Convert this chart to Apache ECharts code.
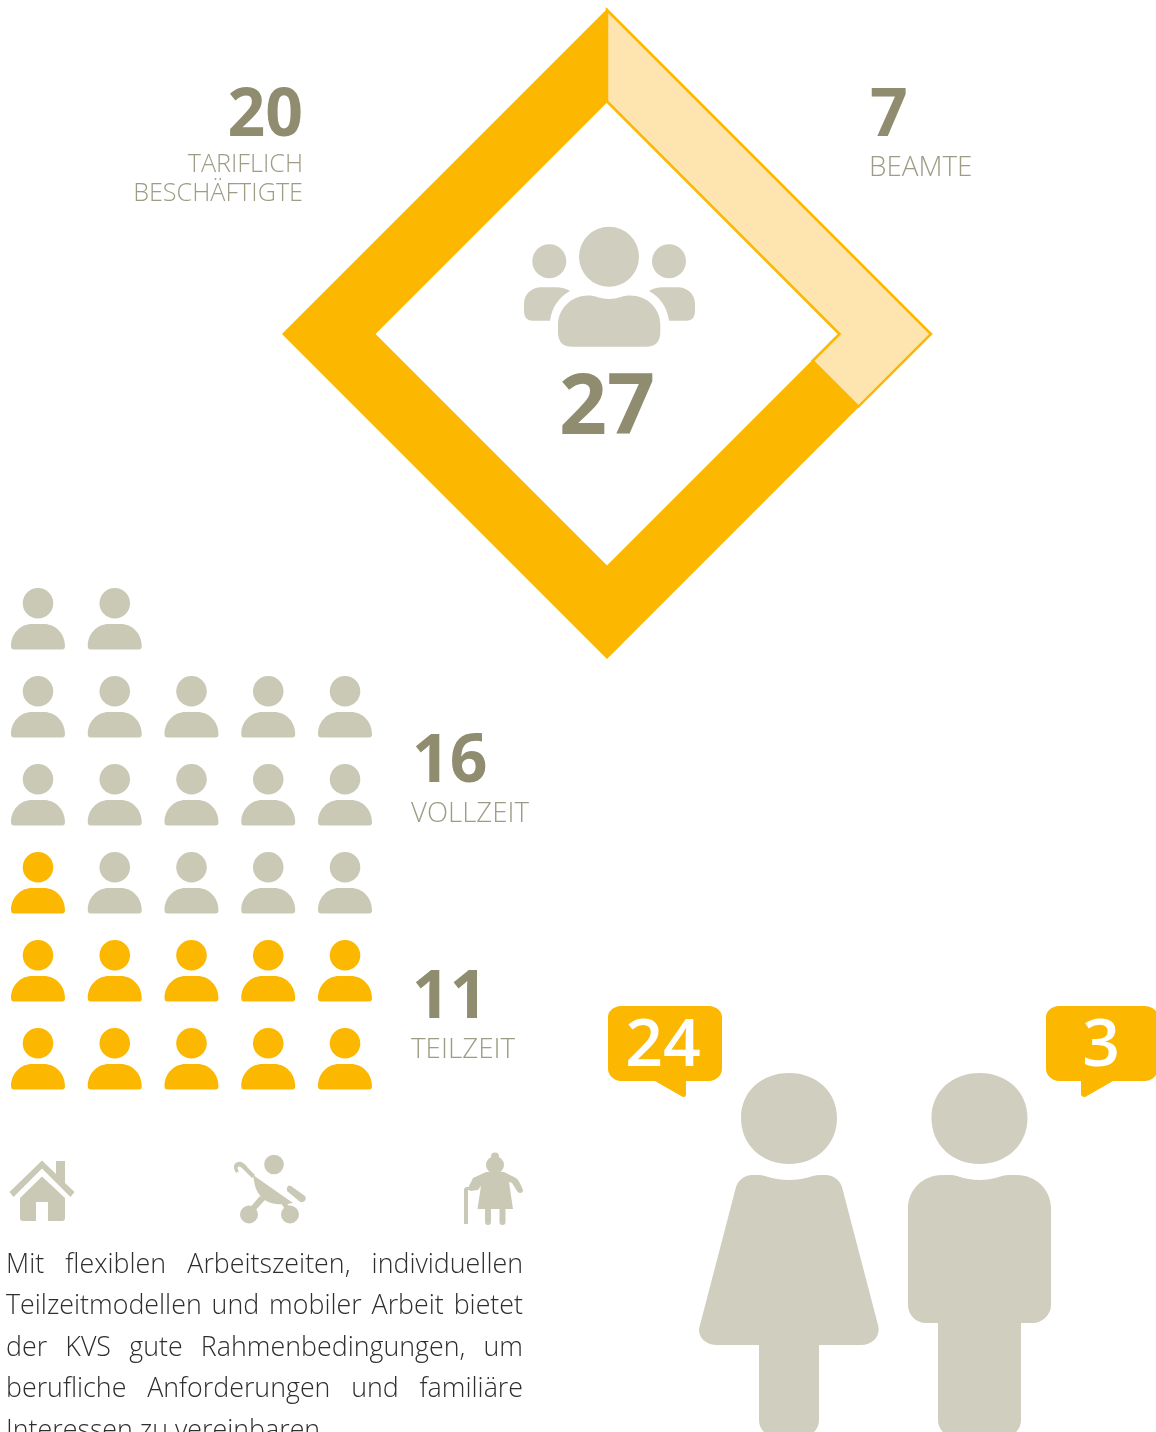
<!DOCTYPE html>
<html><head><meta charset="utf-8">
<style>html,body{margin:0;padding:0;background:#fff;overflow:hidden}#c{width:1156px;height:1432px}</style>
<script src="https://cdn.jsdelivr.net/npm/echarts@6/dist/echarts.min.js"></script>
</head><body><div id="c"></div>
<script>
// --- data ---
const totalStaff = 27;
const statusNames = ['BEAMTE', 'TARIFLICH BESCHÄFTIGTE'];
const statusCounts = [7, 20];
const ringPerimeterShares = [30.6, 69.4]; // share of the diamond outline as drawn in the picture
const workNames = ['VOLLZEIT', 'TEILZEIT'];
const workCounts = [16, 11];
const womenCount = 24;
const menCount = 3;
const paragraphLines = [
  'Mit flexiblen Arbeitszeiten, individuellen',
  'Teilzeitmodellen und mobiler Arbeit bietet',
  'der KVS gute Rahmenbedingungen, um',
  'berufliche Anforderungen und familiäre',
  'Interessen zu vereinbaren.'
];

// --- style ---
const GOLD = '#FCB700', LIGHT = '#FEE4AE', PERSON = '#C9C9B6', BIG = '#D0CEBE',
      NUM = '#8F8C70', LABEL = '#9E9C84', BODY = '#2E2E2E';
const FAMILY = '"Open Sans"';

// --- ring geometry, in page pixels on the hidden axes ---
const CX = 607, CY = 334, RO = 324, RI = 232.5;
const corners = (r) => [[CX, CY - r], [CX + r, CY], [CX, CY + r], [CX - r, CY]];
const NORMALS = [[-1, 1], [-1, -1], [1, -1], [1, 1]];
const BAND = (RO - RI) / 2;
function outerAt(t) {
  const c = corners(RO), i = Math.floor(t) % 4, f = t - Math.floor(t), a = c[i], b = c[(i + 1) % 4];
  return [a[0] + (b[0] - a[0]) * f, a[1] + (b[1] - a[1]) * f];
}
function innerAt(t) {
  const f = t - Math.floor(t);
  if (f < 1e-9) return corners(RI)[Math.floor(t) % 4];
  const p = outerAt(t), n = NORMALS[Math.floor(t) % 4];
  return [p[0] + n[0] * BAND, p[1] + n[1] * BAND];
}
function ringPolygon(t0, t1) {
  const pts = [outerAt(t0)], inner = [innerAt(t0)];
  for (let k = Math.floor(t0) + 1; k < t1; k++) { pts.push(outerAt(k)); inner.push(innerAt(k)); }
  pts.push(outerAt(t1)); inner.push(innerAt(t1));
  return pts.concat(inner.reverse());
}
const ringTotal = ringPerimeterShares.reduce((a, b) => a + b, 0);

// --- pictogram ---
const PERSON_PATH = 'path://M27,0A15.3,15.3 0 1 1 27,30.6A15.3,15.3 0 1 1 27,0Z' +
  'M0,58C0,45 10,36 21,36L33,36C44,36 54,45 54,58Q54,61.5 51,61.5L3,61.5Q0,61.5 0,58Z';
const COLS = 5;
const allCells = [];
for (let i = 0; i < totalStaff; i++) allCells.push([i % COLS, Math.floor(i / COLS)]);
const partTimeCells = allCells.slice(0, workCounts[1]);
const fullTimeCells = allCells.slice(workCounts[1], workCounts[1] + workCounts[0]);

// --- text helpers ---
const measureCtx = document.createElement('canvas').getContext('2d');
function txt(text, x, base, size, weight, fill, align) {
  return { type: 'text', z: 10, silent: true, style: {
    text, x, y: base - size * 0.285,
    font: weight + ' ' + size + 'px ' + FAMILY,
    fill, align: align || 'left', textAlign: align || 'left',
    verticalAlign: 'middle', textVerticalAlign: 'middle' } };
}
const PARA_LEFT = 6, PARA_RIGHT = 523, PARA_SIZE = 26.8, PARA_FIRST = 1273, PARA_LEAD = 41.5;
function paragraph() {
  const out = [], font = '300 ' + PARA_SIZE + 'px ' + FAMILY;
  measureCtx.font = font;
  paragraphLines.forEach((line, li) => {
    const words = line.split(' ');
    const widths = words.map(w => measureCtx.measureText(w).width);
    const sum = widths.reduce((a, b) => a + b, 0);
    const last = li === paragraphLines.length - 1;
    const gap = last ? measureCtx.measureText(' ').width : (PARA_RIGHT - PARA_LEFT - sum) / (words.length - 1);
    let x = PARA_LEFT;
    words.forEach((w, i) => {
      out.push(txt(w, x, PARA_FIRST + li * PARA_LEAD, PARA_SIZE, 300, BODY));
      x += widths[i] + gap;
    });
  });
  return out;
}

// --- icons ---
const circle = (x, y, r) => `M${x - r},${y}A${r},${r} 0 1 1 ${x + r},${y}A${r},${r} 0 1 1 ${x - r},${y}Z`;
const GROUP = circle(609, 256.7, 30) + circle(549.3, 261.3, 17) + circle(669, 261.3, 17) +
  'M558,332L558,325C558,308 572,295.5 588,295.5C592,295.5 594,296 597,297Q609,301 621,297C624,296 626,295.5 630,295.5C647,295.5 660.3,308 660.3,325L660.3,332Q660.3,346.7 646,346.7L572,346.7Q558,346.7 558,332Z' +
  'M524,311L524,304C524,294 532,287.3 541,287.3L556,287.3Q564,287.3 570,291C559,297 552,307 550,320.7L532,320.7Q524,320.7 524,311Z' +
  'M695,311L695,304C695,294 687,287.3 678,287.3L663,287.3Q655,287.3 649,291C660,297 667,307 669,320.7L687,320.7Q695,320.7 695,311Z';
const HOUSE = 'M42,1160.5L56,1174L56,1161L65,1161L65,1183L74.5,1192L70.5,1197L42,1168.5L13.5,1197L9.5,1192Z' +
  'M42,1176.5L65,1198L65,1218Q65,1221 62,1221L48,1221L48,1202L36,1202L36,1221L23,1221Q20,1221 20,1218L20,1198Z';
const STROLLER = circle(274, 1164.5, 9.8) +
  'M235,1171C232,1165 236,1161 241,1162C244,1163 246,1165 248,1168L255,1175L252,1178L243,1169C241,1167 239,1166 238,1167C237,1168 238,1170 239,1171L236,1173Z' +
  'M253,1175L293,1203Q284,1205 276,1204C266,1203 258,1196 255,1186Z' +
  'M260,1196L265,1200L252,1214L247,1211Z' +
  'M281,1203L286,1202L293,1212L288,1214Z' +
  circle(249, 1214.5, 9) + circle(290, 1214.5, 9) +
  'M291,1186L305,1196Q307,1199 304,1201.5Q301,1203 299,1201L287,1191Q286,1188 288,1186Q289,1185 291,1186Z';
const GRANDMA = circle(495, 1156.5, 4) + circle(495, 1165, 9) +
  'M486,1172L504,1172L516,1178Q519,1180 523,1190Q523,1193 520,1193Q518,1193 517,1191L512,1183L509,1182L513,1209L505.5,1209L505.5,1222Q505.5,1225 502.5,1225Q499.5,1225 499.5,1222L499.5,1209L491,1209L491,1222Q491,1225 488,1225Q485,1225 485,1222L485,1209L477.5,1209L481,1186L478,1190L470,1191L468,1188L473,1178Z' +
  'M464,1224L464,1190Q464,1187 467,1187L470,1187L470,1190L468,1190L468,1224Z';
const WOMAN = 'M789,1073C817,1073 837,1092 837,1118C837,1144 817,1164 789,1164C761,1164 741,1144 741,1118C741,1092 761,1073 789,1073Z' +
  'M752,1175L758,1175Q762,1175 765,1176Q789,1184 813,1176Q816,1175 820,1175L826,1175C833,1175 840,1180 842,1187L878,1325C881,1336 873,1345 861,1345L819,1345L819,1420C819,1430 811,1437 802,1437L776,1437C767,1437 759,1430 759,1420L759,1345L717,1345C705,1345 696,1336 700,1325L736,1187C738,1180 745,1175 752,1175Z';
const MAN = 'M979.5,1073C1007.5,1073 1027.5,1092 1027.5,1118C1027.5,1144 1007.5,1164 979.5,1164C951.5,1164 931.5,1144 931.5,1118C931.5,1092 951.5,1073 979.5,1073Z' +
  'M942,1175L950,1175Q954,1175 957,1176Q979.5,1184 1002,1176Q1005,1175 1009,1175L1017,1175C1036,1175 1051,1190 1051,1208L1051,1305C1051,1315 1042,1323 1033,1323L1021,1323L1021,1420C1021,1430 1013,1437 1004,1437L955,1437C946,1437 938,1430 938,1420L938,1323L926,1323C916,1323 908,1315 908,1305L908,1208C908,1190 923,1175 942,1175Z';
const BUBBLE_W = 'M621,1006L709,1006C716,1006 722,1011 722,1017L722,1069C722,1075 716,1081 709,1081L686,1081L686,1095Q685,1098 682,1096.5L655,1081L621,1081C614,1081 608,1075 608,1069L608,1017C608,1011 614,1006 621,1006Z';
const BUBBLE_M = 'M1059,1006L1145,1006C1152,1006 1158,1011 1158,1017L1158,1069C1158,1075 1152,1081 1145,1081L1113,1081L1086,1096.5Q1083,1098 1081,1095L1081,1081L1059,1081C1052,1081 1046,1075 1046,1069L1046,1017C1046,1011 1052,1006 1059,1006Z';
const iconPaths = [GROUP, WOMAN, MAN, BUBBLE_W, BUBBLE_M, HOUSE, STROLLER, GRANDMA];
const iconFills = [BIG, BIG, BIG, GOLD, GOLD, PERSON, PERSON, PERSON];

const chart = echarts.init(document.getElementById('c'), null, { renderer: 'canvas', width: 1156, height: 1432 });
chart.setOption({
  animation: false,
  backgroundColor: '#ffffff',
  grid: [
    { left: 0, top: 0, width: 1156, height: 1432 },
    { left: 38, top: 618.7, width: 307, height: 440 }
  ],
  xAxis: [
    { type: 'value', min: 0, max: 1156, show: false, gridIndex: 0 },
    { type: 'value', min: 0, max: 4, show: false, gridIndex: 1 }
  ],
  yAxis: [
    { type: 'value', min: 0, max: 1432, inverse: true, show: false, gridIndex: 0 },
    { type: 'value', min: 0, max: 5, show: false, gridIndex: 1 }
  ],
  series: [
    {
      type: 'custom', name: 'Status', xAxisIndex: 0, yAxisIndex: 0, clip: false, silent: true,
      data: ringPerimeterShares.map((v, i) => ({ name: statusNames[i], value: [v] })),
      renderItem(params, api) {
        let before = 0;
        for (let i = 0; i < params.dataIndex; i++) before += ringPerimeterShares[i];
        const t0 = before / ringTotal * 4, t1 = (before + api.value(0)) / ringTotal * 4;
        const points = ringPolygon(t0, t1).map(p => api.coord(p));
        const isLight = params.dataIndex === 0;
        return { type: 'polygon', z2: isLight ? 2 : 1, shape: { points },
          style: { fill: isLight ? LIGHT : GOLD, stroke: GOLD, lineWidth: isLight ? 2.5 : 1.5, lineJoin: 'miter' } };
      }
    },
    {
      type: 'custom', name: 'Icons', xAxisIndex: 0, yAxisIndex: 0, clip: false, silent: true,
      data: iconPaths.map((_, i) => [i]),
      renderItem(params) {
        return { type: 'path', shape: { pathData: iconPaths[params.dataIndex] },
          style: { fill: iconFills[params.dataIndex] } };
      }
    },
    {
      type: 'scatter', name: workNames[1], xAxisIndex: 1, yAxisIndex: 1, silent: true,
      symbol: PERSON_PATH, symbolSize: [54, 61.5], symbolKeepAspect: false,
      itemStyle: { color: GOLD, opacity: 1 }, data: partTimeCells
    },
    {
      type: 'scatter', name: workNames[0], xAxisIndex: 1, yAxisIndex: 1, silent: true,
      symbol: PERSON_PATH, symbolSize: [54, 61.5], symbolKeepAspect: false,
      itemStyle: { color: PERSON, opacity: 1 }, data: fullTimeCells
    }
  ],
  graphic: { elements: [
    txt(String(totalStaff), 607, 434, 84, 700, NUM, 'center'),
    txt(String(statusCounts[1]), 303, 136, 66, 700, NUM, 'right'),
    txt('TARIFLICH', 303, 172, 25.2, 300, LABEL, 'right'),
    txt('BESCHÄFTIGTE', 303, 201, 25.2, 300, LABEL, 'right'),
    txt(String(statusCounts[0]), 870, 136, 66, 700, NUM),
    txt(statusNames[0], 869, 176, 27.8, 300, LABEL),
    txt(String(workCounts[0]), 412, 782, 66, 700, NUM),
    txt(workNames[0], 411, 822, 27.6, 300, LABEL),
    txt(String(workCounts[1]), 412, 1018, 66, 700, NUM),
    txt(workNames[1], 411, 1058, 27.8, 300, LABEL),
    txt(String(womenCount), 663, 1066, 66, 600, '#ffffff', 'center'),
    txt(String(menCount), 1101, 1066, 66, 600, '#ffffff', 'center')
  ].concat(paragraph()) }
});
</script></body></html>
